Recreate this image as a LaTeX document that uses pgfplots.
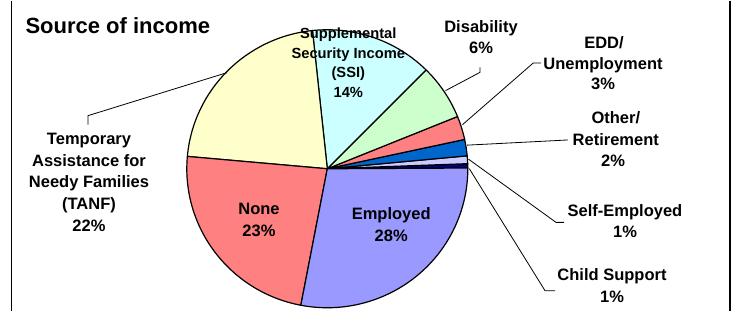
\documentclass[border=0pt]{standalone}
\usepackage{pgfplots}
\pgfplotsset{compat=1.18}
\usepackage{pgfplotstable}
\usepackage{fontspec}
\setmainfont{Liberation Sans}

\definecolor{cEmp}{HTML}{9999FF}
\definecolor{cNone}{HTML}{FF8080}
\definecolor{cTanf}{HTML}{FFFFCC}
\definecolor{cSsi}{HTML}{CCFFFF}
\definecolor{cDis}{HTML}{CCFFCC}
\definecolor{cEdd}{HTML}{FF8080}
\definecolor{cOth}{HTML}{0066CC}
\definecolor{cSelf}{HTML}{CCCCFF}
\definecolor{cChild}{HTML}{000080}

% slices counter-clockwise, starting just above 3 o'clock
\pgfplotstableread[col sep=comma]{
label,value,color
Child Support,0.5,cChild
Self-Employed,0.9,cSelf
Other/Retirement,1.9,cOth
EDD/Unemployment,2.75,cEdd
Disability,6.45,cDis
SSI,14.1,cSsi
TANF,21.9,cTanf
None,23.4,cNone
Employed,28.1,cEmp
}\piedata

\newcommand\lab{\fontsize{16.5bp}{20bp}\selectfont\bfseries}
\newcommand\labs{\fontsize{14.7bp}{18bp}\selectfont\bfseries}
\newcommand\ttl{\fontsize{22bp}{26bp}\selectfont\bfseries}

\begin{document}
\begin{tikzpicture}
\begin{axis}[x=1bp, y=1bp, y dir=reverse,
  xmin=0, xmax=735, ymin=0, ymax=310,
  scale only axis, hide axis, clip=false]
\path (axis cs:0,0) rectangle (axis cs:735,310);

\pgfplotstablegetrowsof{\piedata}
\pgfmathtruncatemacro{\nrows}{\pgfplotsretval-1}
\def\cum{0.3}
\pgfplotsforeachungrouped \i in {0,...,\nrows}{%
  \pgfplotstablegetelem{\i}{value}\of\piedata
  \pgfmathsetmacro{\va}{\cum}%
  \pgfmathsetmacro{\vb}{\cum+3.6*\pgfplotsretval}%
  \pgfplotstablegetelem{\i}{color}\of\piedata
  \edef\col{\pgfplotsretval}%
  \pgfmathsetmacro{\xs}{327.3+140.5*cos(\va)}%
  \pgfmathsetmacro{\ys}{168.1-139*sin(\va)}%
  \edef\temp{\noexpand\filldraw[fill=\col, draw=black, line width=1.2bp, line join=round]
    (axis cs:327.3,168.1) -- (axis cs:\xs,\ys)
    arc[start angle=\va, end angle=\vb, x radius=140.5bp, y radius=139bp] -- cycle;}%
  \temp
  \global\let\cum\vb
}

% frame lines
\addplot[black, line width=1.3bp] coordinates {(11.5,0) (11.5,310)};
\addplot[black, line width=1.3bp] coordinates {(730,0) (730,310)};

% leader lines
\addplot[black, line width=0.8bp] coordinates {(88,124) (88,115) (227,72)};
\addplot[black, line width=0.8bp] coordinates {(480,66.7) (480,71.7) (445.5,90)};
\addplot[black, line width=0.8bp] coordinates {(541,62.3) (533.3,62.3) (462.5,124)};
\addplot[black, line width=0.8bp] coordinates {(568,139.3) (467,144.5)};
\addplot[black, line width=0.8bp] coordinates {(564,221.7) (556,221.7) (468.5,158.5)};
\addplot[black, line width=0.8bp] coordinates {(555,290) (545,290) (469.3,168)};

% title
\node[anchor=base west, font=\ttl] at (axis cs:22,33.3) {Source of income};

% labels
\node[anchor=base, font=\labs] at (axis cs:348.3,38.3) {Supplemental};
\node[anchor=base, font=\labs] at (axis cs:348.3,57.5) {Security Income};
\node[anchor=base, font=\labs] at (axis cs:348.3,77.3) {(SSI)};
\node[anchor=base, font=\labs] at (axis cs:348.3,96.7) {14\%};

\node[anchor=base, font=\lab] at (axis cs:89,144.3) {Temporary};
\node[anchor=base, font=\lab] at (axis cs:89,166) {Assistance for};
\node[anchor=base, font=\lab] at (axis cs:89,187.3) {Needy Families};
\node[anchor=base, font=\lab] at (axis cs:89,209) {(TANF)};
\node[anchor=base, font=\lab] at (axis cs:89,230.7) {22\%};

\node[anchor=base, font=\lab] at (axis cs:259,214) {None};
\node[anchor=base, font=\lab] at (axis cs:259,235.7) {23\%};

\node[anchor=base, font=\lab] at (axis cs:391.2,219.3) {Employed};
\node[anchor=base, font=\lab] at (axis cs:391.2,241) {28\%};

\node[anchor=base, font=\lab] at (axis cs:481,31.7) {Disability};
\node[anchor=base, font=\lab] at (axis cs:481,52.7) {6\%};

\node[anchor=base, font=\lab] at (axis cs:604,48.3) {EDD/};
\node[anchor=base, font=\lab] at (axis cs:603,69) {Unemployment};
\node[anchor=base, font=\lab] at (axis cs:603,89.3) {3\%};

\node[anchor=base, font=\lab] at (axis cs:615.8,123.3) {Other/};
\node[anchor=base, font=\lab] at (axis cs:615.8,145) {Retirement};
\node[anchor=base, font=\lab] at (axis cs:613,165.7) {2\%};

\node[anchor=base, font=\lab] at (axis cs:625,216) {Self-Employed};
\node[anchor=base, font=\lab] at (axis cs:625,237.3) {1\%};

\node[anchor=base, font=\lab] at (axis cs:612,280) {Child Support};
\node[anchor=base, font=\lab] at (axis cs:612,301.7) {1\%};
\end{axis}
\end{tikzpicture}
\end{document}
